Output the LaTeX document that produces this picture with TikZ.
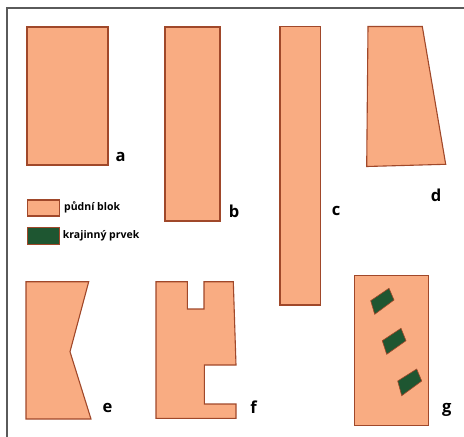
\documentclass[tikz,border=0pt]{standalone}
\usepackage{fontspec}
\setmainfont{Open Sans}
\definecolor{soil}{HTML}{F9AC82}
\definecolor{soilline}{HTML}{A0482A}
\definecolor{green}{HTML}{1E5631}
\definecolor{frame}{HTML}{5A5A5A}
\begin{document}
\begin{tikzpicture}[x=1pt,y=-1pt,
  blok/.style={fill=soil,draw=soilline,line width=1.1pt,line join=miter},
  prvek/.style={fill=green,draw=soilline,line width=0.6pt},
  lbl/.style={font=\bfseries\fontsize{16.5}{18}\selectfont,inner sep=0pt},
  leg/.style={font=\bfseries\fontsize{10.5}{12}\selectfont,inner sep=0pt,anchor=west}]
\useasboundingbox (0,0) rectangle (464,437);
\draw[frame,line width=1.5pt] (7,460) -- (7,8) -- (480,8);
% a
\draw[blok] (27,27) rectangle (108,165);
\node[lbl] (la) at (120.5,157) {a};
% b
\draw[blok] (165,27) rectangle (220,221);
\node[lbl] (lb) at (234,211) {b};
% c
\draw[blok] (280,26.5) rectangle (320.5,305);
\node[lbl] (lc) at (336,211) {c};
% d
\draw[blok] (368,26.5) -- (422.3,26.5) -- (445.7,164.3) -- (366.7,166.5) -- cycle;
\node[lbl] (ld) at (436,195) {d};
% e
\draw[blok] (26,281.7) -- (88.7,281.7) -- (70,351.7) -- (91,419) -- (26,419) -- cycle;
\node[lbl] (le) at (107.5,408) {e};
% f
\draw[blok] (156,281.7) -- (187.3,281.7) -- (187.3,309) -- (204,309) -- (204,281.7) -- (233.3,281.7) -- (236,365) -- (204.3,365) -- (204.3,404) -- (236,404) -- (236,418.3) -- (156,418.3) -- cycle;
\node[lbl] (lf) at (253.5,407) {f};
% g
\draw[blok] (354.7,275.7) rectangle (428.3,425.7);
\draw[prvek] (370.7,300.7) -- (389,288.3) -- (394,300) -- (374.7,314.3) -- cycle;
\draw[prvek] (382.3,340.7) -- (401,328.3) -- (406,340.7) -- (386.7,354.3) -- cycle;
\draw[prvek] (397.7,381) -- (416.7,369) -- (421.7,381) -- (401.7,395.7) -- cycle;
\node[lbl] (lg) at (446.7,410) {g};
% legend
\draw[blok] (27.3,200) rectangle (59.3,216);
\node[leg] (t1) at (64,207.5) {půdní blok};
\draw[fill=green,draw=soilline,line width=1.1pt] (27.3,227.3) rectangle (59.3,244.3);
\node[leg] (t2) at (62.7,235.5) {krajinný prvek};
\end{tikzpicture}
\end{document}
